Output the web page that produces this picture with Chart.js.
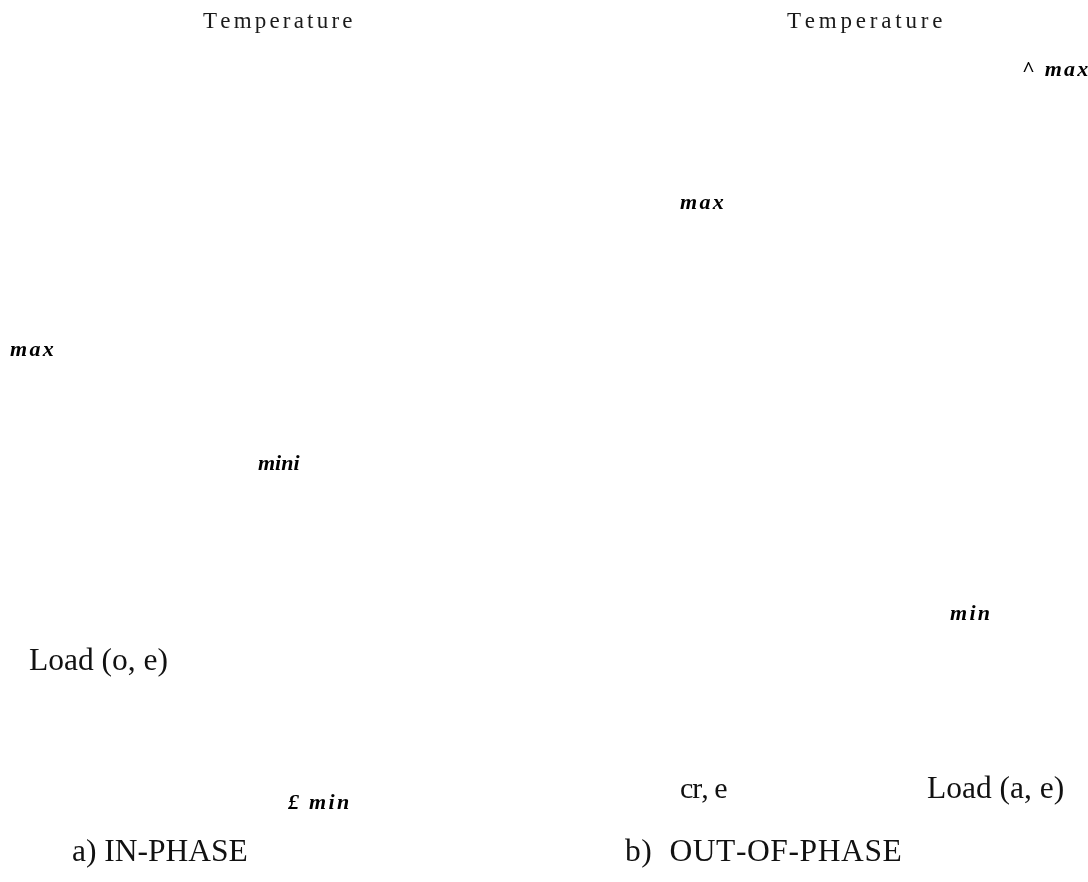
<!DOCTYPE html>
<html>
<head>
<meta charset="utf-8">
<script src="https://cdn.jsdelivr.net/npm/chart.js@4/dist/chart.umd.min.js"></script>
<style>
  html, body { margin: 0; padding: 0; background: #ffffff; }
  #wrap { width: 1088px; height: 882px; }
</style>
</head>
<body>
<div id="wrap"><canvas id="c" width="1088" height="882"></canvas></div>
<script>
// ---- data: text annotations of the figure (data units = figure coordinates) ----
const labelTexts = ["Temperature", "Temperature", "^ max", "max", "max", "mini", "min",
                    "Load (o, e)", "£ min", "cr, e", "Load (a, e)", "a) IN-PHASE", "b)  OUT-OF-PHASE"];
const labelX = [203, 787, 1022, 680, 10, 258, 950, 29, 288, 680, 927, 72, 625];
const labelY = [22, 22, 70, 203, 350, 464, 614, 662, 803, 790, 790, 853, 853];
const labelKind = ["title", "titleWide", "math", "math", "math", "mathTight", "math",
                   "text", "math", "textTight", "text", "text", "captionWide"];

// ---- styles (kept apart from data) ----
const styles = {
  title:       { font: "23px 'Liberation Serif', 'DejaVu Serif', serif", spacing: 3.2, color: "#1a1a1a" },
  titleWide:   { font: "23px 'Liberation Serif', 'DejaVu Serif', serif", spacing: 3.8, color: "#1a1a1a" },
  math:        { font: "italic bold 22px 'Liberation Serif', 'DejaVu Serif', serif", spacing: 2.3, color: "#000000" },
  mathTight:   { font: "italic bold 22px 'Liberation Serif', 'DejaVu Serif', serif", spacing: 0, color: "#000000" },
  text:        { font: "31.5px 'Liberation Serif', 'DejaVu Serif', serif", spacing: 0, color: "#111111" },
  textTight:   { font: "30px 'Liberation Serif', 'DejaVu Serif', serif", spacing: -1, color: "#111111" },
  captionWide: { font: "31.5px 'Liberation Serif', 'DejaVu Serif', serif", spacing: 0.6, color: "#111111" }
};

const points = labelX.map((x, i) => ({ x: x, y: labelY[i] }));

const textLabels = {
  id: "textLabels",
  afterDatasetsDraw(chart) {
    const ctx = chart.ctx;
    const xs = chart.scales.x, ys = chart.scales.y;
    ctx.save();
    ctx.textBaseline = "middle";
    ctx.textAlign = "left";
    labelTexts.forEach((t, i) => {
      const st = styles[labelKind[i]];
      ctx.font = st.font;
      ctx.fillStyle = st.color;
      let px = xs.getPixelForValue(labelX[i]);
      const py = ys.getPixelForValue(labelY[i]);
      if (!st.spacing) { ctx.fillText(t, px, py); return; }
      for (const ch of t) {
        ctx.fillText(ch, px, py);
        px += ctx.measureText(ch).width + st.spacing;
      }
    });
    ctx.restore();
  }
};

new Chart(document.getElementById("c"), {
  type: "scatter",
  data: {
    datasets: [{
      data: points,
      pointRadius: 0,
      pointHoverRadius: 0,
      showLine: false
    }]
  },
  options: {
    responsive: false,
    animation: false,
    events: [],
    layout: { padding: 0 },
    plugins: { legend: { display: false }, tooltip: { enabled: false }, title: { display: false } },
    scales: {
      x: { type: "linear", min: 0, max: 1088, display: false },
      y: { type: "linear", min: 0, max: 882, reverse: true, display: false }
    }
  },
  plugins: [textLabels]
});
</script>
</body>
</html>
